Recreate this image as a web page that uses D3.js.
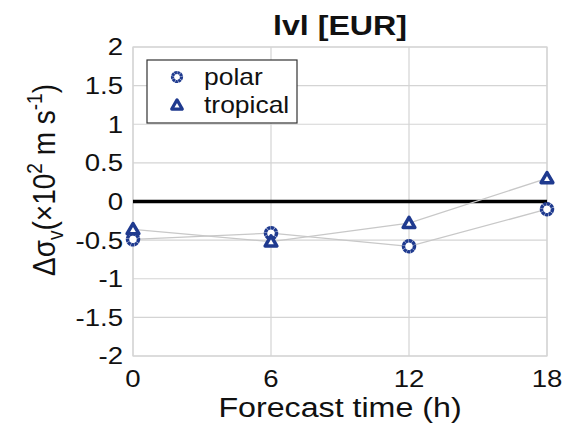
<!DOCTYPE html>
<html>
<head>
<meta charset="utf-8">
<script src="https://cdn.jsdelivr.net/npm/d3@7"></script>
<style>
  body { margin: 0; background: #fff; }
  text { font-family: "Liberation Sans", Arial, sans-serif; fill: #111; }
</style>
</head>
<body>
<div id="chart"></div>
<script>
// data
var hours = [0, 6, 12, 18];
var polar = [-0.49, -0.41, -0.58, -0.10];
var tropical = [-0.36, -0.52, -0.28, 0.30];
var yTicks = [-2, -1.5, -1, -0.5, 0, 0.5, 1, 1.5, 2];

var W = 567, H = 424;
var margin = {top: 47, right: 20, bottom: 68, left: 133};
var width = W - margin.left - margin.right,
    height = H - margin.top - margin.bottom;

var navy = "#1f3a8f";
var sx = 1.15; // text in the reference is a bit wide

var svg = d3.select("#chart").append("svg")
    .attr("width", W).attr("height", H);

// small helper: text stretched horizontally
function label(parent, px, py, str, size, anchor, extra) {
  var t = parent.append("g")
      .attr("transform", "translate(" + px + "," + py + ") scale(" + sx + ",1)" + (extra || ""))
    .append("text")
      .attr("text-anchor", anchor || "start")
      .style("font-size", size + "px");
  if (str !== null) t.text(str);
  return t;
}

var g = svg.append("g")
    .attr("transform", "translate(" + margin.left + "," + margin.top + ")");

var x = d3.scaleLinear().domain([0, 18]).range([0, width]);
var y = d3.scaleLinear().domain([-2, 2]).range([height, 0]);

// grid
g.append("g").selectAll("line").data(yTicks).enter().append("line")
    .attr("x1", 0).attr("x2", width)
    .attr("y1", function(d) { return y(d); }).attr("y2", function(d) { return y(d); })
    .attr("stroke", "#d4d4d4").attr("stroke-width", 1.2);
g.append("g").selectAll("line").data(hours).enter().append("line")
    .attr("x1", function(d) { return x(d); }).attr("x2", function(d) { return x(d); })
    .attr("y1", 0).attr("y2", height)
    .attr("stroke", "#d4d4d4").attr("stroke-width", 1.2);
g.append("rect").attr("width", width).attr("height", height)
    .attr("fill", "none").attr("stroke", "#d4d4d4").attr("stroke-width", 1.2);

// zero line
g.append("line")
    .attr("x1", 0).attr("x2", width)
    .attr("y1", y(0)).attr("y2", y(0))
    .attr("stroke", "#000").attr("stroke-width", 3.5);

// tick labels
yTicks.forEach(function(d) {
  label(g, -10, y(d), d, 24, "end").attr("dy", "0.35em");
});
hours.forEach(function(d) {
  label(g, x(d), height + 31, d, 24, "middle");
});

// series lines
var line = d3.line()
    .x(function(d, i) { return x(hours[i]); })
    .y(function(d) { return y(d); });
[polar, tropical].forEach(function(s) {
  g.append("path").datum(s)
      .attr("d", line)
      .attr("fill", "none")
      .attr("stroke", "#c8c8c8").attr("stroke-width", 1.3);
});

var tri = d3.symbol().type(d3.symbolTriangle).size(60);

// markers
g.append("g").selectAll("circle").data(polar).enter().append("circle")
    .attr("cx", function(d, i) { return x(hours[i]); })
    .attr("cy", function(d) { return y(d); })
    .attr("r", 5.5)
    .attr("fill", "#fff").attr("stroke", navy).attr("stroke-width", 3.5)
    .attr("stroke-dasharray", "3.2 0.4");
g.append("g").selectAll("path").data(tropical).enter().append("path")
    .attr("d", tri)
    .attr("transform", function(d, i) { return "translate(" + x(hours[i]) + "," + (y(d) + 1) + ")"; })
    .attr("fill", "#fff").attr("stroke", navy).attr("stroke-width", 3.5)
    .attr("stroke-linejoin", "round");

// legend
var leg = svg.append("g").attr("transform", "translate(147,60)");
leg.append("rect").attr("width", 150).attr("height", 63)
    .attr("fill", "#fff").attr("stroke", "#333").attr("stroke-width", 1.2);
leg.append("circle").attr("cx", 30).attr("cy", 17).attr("r", 4.5)
    .attr("fill", "#fff").attr("stroke", navy).attr("stroke-width", 3.2)
    .attr("stroke-dasharray", "2.6 0.4");
leg.append("path").attr("d", d3.symbol().type(d3.symbolTriangle).size(48))
    .attr("transform", "translate(30,46)")
    .attr("fill", "#fff").attr("stroke", navy).attr("stroke-width", 3.2)
    .attr("stroke-linejoin", "round");
label(leg, 57, 17, "polar", 23, "start").attr("dy", "0.36em");
label(leg, 57, 45, "tropical", 23, "start").attr("dy", "0.36em");

// title
label(svg, margin.left + width / 2, 35, "lvl [EUR]", 28, "middle")
    .style("font-weight", "bold");

// x label
label(svg, margin.left + width / 2, 417, "Forecast time (h)", 28, "middle");

// y label
var yl = label(svg, 55, 180, null, 28, "middle", " rotate(-90)");
yl.append("tspan").text("\u0394\u03c3");
yl.append("tspan").attr("dy", 7).style("font-size", "19px").text("v");
yl.append("tspan").attr("dy", -7).text("(\u00d710");
yl.append("tspan").attr("dy", -11).style("font-size", "19px").text("2");
yl.append("tspan").attr("dy", 11).text(" m s");
yl.append("tspan").attr("dy", -11).style("font-size", "19px").text("-1");
yl.append("tspan").attr("dy", 11).text(")");
</script>
</body>
</html>
